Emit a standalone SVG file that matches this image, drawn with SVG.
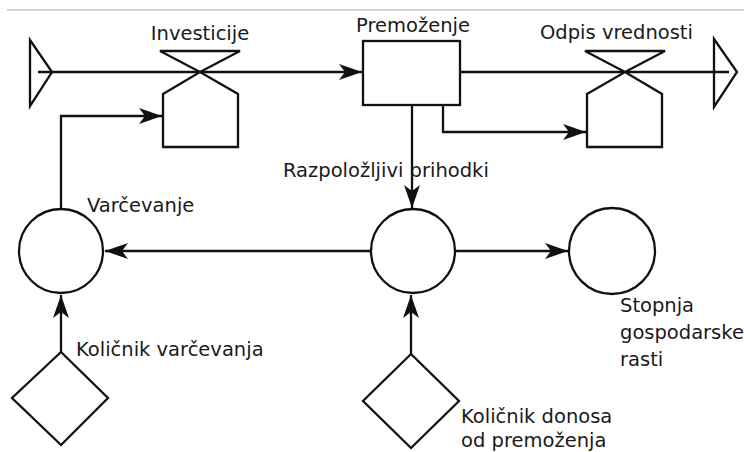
<svg xmlns="http://www.w3.org/2000/svg" width="744" height="452" viewBox="0 0 744 452">
  <style>
    .shape { fill: #fff; stroke: #111; stroke-width: 2.3; stroke-linejoin: miter; }
    .line { fill: none; stroke: #111; stroke-width: 2.3; }
    .label { font-family: "DejaVu Sans", "Liberation Sans", sans-serif; font-size: 19.5px; fill: #1a1a1a; }
  </style>
  <defs>
    <marker id="arrow" markerUnits="userSpaceOnUse" markerWidth="26" markerHeight="18" refX="23" refY="8" orient="auto">
      <path d="M0,0 L23,8 L0,16 L6,8 Z" fill="#111"/>
    </marker>
  </defs>

  <rect width="744" height="452" fill="#fff"/>
  <line x1="7" y1="10" x2="744" y2="10" stroke="#aaa" stroke-width="1.2"/>

  <!-- connectors -->
  <g id="connectors">
    <line class="line" x1="38" y1="72" x2="362" y2="72" marker-end="url(#arrow)"/>
    <line class="line" x1="460" y1="72" x2="729" y2="72"/>
    <line class="line" x1="412" y1="105" x2="412" y2="208" marker-end="url(#arrow)"/>
    <polyline class="line" points="443,105 443,132 586,132" marker-end="url(#arrow)"/>
    <polyline class="line" points="61,209 61,116 162,116" marker-end="url(#arrow)"/>
    <line class="line" x1="371" y1="251" x2="105" y2="251" marker-end="url(#arrow)"/>
    <line class="line" x1="455" y1="251" x2="568" y2="251" marker-end="url(#arrow)"/>
    <line class="line" x1="61" y1="352" x2="61" y2="295" marker-end="url(#arrow)"/>
    <line class="line" x1="411" y1="354" x2="411" y2="295" marker-end="url(#arrow)"/>
  </g>

  <!-- source cloud -->
  <g id="source">
    <polygon class="shape" points="30,40 52,72 30,106" style="fill:none"/>
  </g>

  <!-- flow valve: Investicije -->
  <g id="investicije">
    <polygon class="shape" points="160,51 240,51 200,72"/>
    <polygon class="shape" points="163,94 200,72 238,94 238,147 163,147"/>
    <text class="label" x="200" y="40" text-anchor="middle">Investicije</text>
  </g>

  <!-- stock: Premoženje -->
  <g id="premozenje">
    <rect class="shape" x="363" y="41" width="97" height="64"/>
    <text class="label" x="413" y="32" text-anchor="middle">Premoženje</text>
  </g>

  <!-- flow valve: Odpis vrednosti -->
  <g id="odpis">
    <polygon class="shape" points="585,51 665,51 625,72"/>
    <polygon class="shape" points="587,94 625,72 662,94 662,147 587,147"/>
    <text class="label" x="540" y="39">Odpis vrednosti</text>
  </g>

  <!-- sink cloud -->
  <g id="sink">
    <polygon class="shape" points="714,39 737,72 714,107" style="fill:none"/>
  </g>

  <!-- auxiliaries -->
  <g id="varcevanje">
    <circle class="shape" cx="61" cy="251" r="42"/>
    <text class="label" x="87" y="212">Varčevanje</text>
  </g>

  <g id="prihodki">
    <circle class="shape" cx="413" cy="251" r="42"/>
    <text class="label" x="283" y="177">Razpoložljivi prihodki</text>
  </g>

  <g id="rast">
    <circle class="shape" cx="612" cy="251" r="43"/>
    <text class="label" x="620" y="312">Stopnja</text>
    <text class="label" x="620" y="339">gospodarske</text>
    <text class="label" x="620" y="366">rasti</text>
  </g>

  <!-- constants -->
  <g id="kolicnik-varcevanja">
    <polygon class="shape" points="61,352 108,398 61,445 12,398"/>
    <text class="label" x="76" y="356">Količnik varčevanja</text>
  </g>

  <g id="kolicnik-donosa">
    <polygon class="shape" points="411,354 459,401 411,448 363,401"/>
    <text class="label" x="461" y="423">Količnik donosa</text>
    <text class="label" x="461" y="447">od premoženja</text>
  </g>
</svg>
